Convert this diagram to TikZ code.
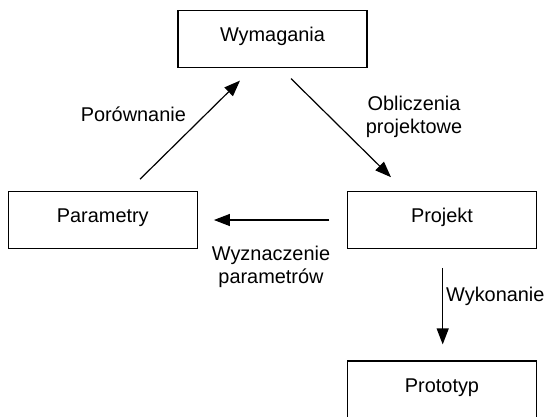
\documentclass[tikz,border=0pt]{standalone}
\usepackage{fontspec}
\setmainfont{Liberation Sans}
\usetikzlibrary{arrows.meta,calc}
\begin{document}
\begin{tikzpicture}[x=1pt,y=-1pt,
  box/.style={draw,line width=1.2pt,minimum width=189pt,minimum height=57pt,inner sep=0pt,
    text height=0.7em,text depth=0.2em,font=\fontsize{19.9}{23}\selectfont},
  lbl/.style={inner sep=0pt,font=\fontsize{19.9}{23}\selectfont,align=center},
  arr/.style={line width=1.2pt,-{Triangle[length=16pt,width=12pt]}}]
\useasboundingbox (0,0) rectangle (547,416);
\begin{scope}
\clip (0,0) rectangle (547,416);
\node[box] (Wymagania) at (272.5,39.2) {Wymagania};
\node[box] (Parametry) at (102.8,220) {Parametry};
\node[box] (Projekt) at (442,220) {Projekt};
\node[box] (Prototyp) at (442,389.5) {Prototyp};
\end{scope}
\draw[arr] ($(Parametry.north)+(37.2,-11.7)$) -- ($(Wymagania.south)+(-32.5,12.3)$);
\draw[arr] ($(Wymagania.south)+(18.5,10.3)$) -- ($(Projekt.north)+(-51,-13.7)$);
\draw[arr] ($(Projekt.west)+(-17.5,0)$) -- ($(Parametry.east)+(16,0)$);
\draw[arr] ($(Projekt.south)+(0.7,18.7)$) -- ($(Prototyp.north)+(0.7,-16)$);
\node[lbl,anchor=base] (lPor) at (133.3,121.7) {Porównanie};
\node[lbl] (lObl) at (414,116.4) {Obliczenia\\projektowe};
\node[lbl] (lWyz) at (271,267) {Wyznaczenie\\parametrów};
\node[lbl,anchor=base west] (lWyk) at (446,301.7) {Wykonanie};
\end{tikzpicture}
\end{document}
